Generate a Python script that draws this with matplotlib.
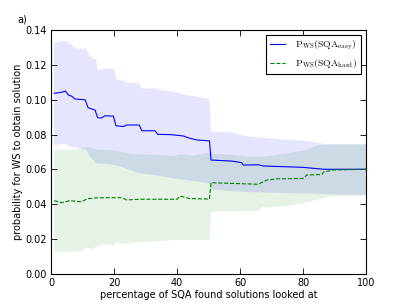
import numpy as np
import matplotlib
matplotlib.use("Agg")
import matplotlib.pyplot as plt

# mean curves
x_easy = [1, 3.4, 4.6, 5.5, 6.6, 7.6, 10.8, 11.8, 14, 14.8, 16, 17.1, 19.8, 20.6, 23, 24, 28, 28.8,
          33, 33.9, 37.8, 42, 43.5, 46.2, 50.3, 50.8, 57.4, 60.5, 61, 65.8, 67.3, 80, 86.5, 100]
p_easy = [0.1037, 0.1043, 0.105, 0.1027, 0.102, 0.1004, 0.1, 0.0954, 0.094, 0.0897, 0.0895, 0.0908,
          0.0906, 0.0851, 0.0846, 0.0855, 0.0855, 0.0822, 0.0822, 0.0801, 0.08, 0.0792, 0.0782, 0.0769,
          0.0764, 0.0654, 0.0648, 0.0639, 0.0625, 0.0627, 0.062, 0.0612, 0.0601, 0.0601]

x_hard = [1, 3.4, 6, 9.7, 11.5, 14.3, 18.7, 22.4, 24, 28, 40, 41, 44, 50.3, 50.8, 65.8, 68.5, 71.7,
          80, 81.2, 86, 86.5, 89.7, 100]
p_hard = [0.0421, 0.0409, 0.0421, 0.0414, 0.0432, 0.0437, 0.0438, 0.0438, 0.0425, 0.0429, 0.0429,
          0.0447, 0.0433, 0.043, 0.0524, 0.0515, 0.0539, 0.0546, 0.0548, 0.0568, 0.0571, 0.0585,
          0.0597, 0.0601]

# bands
xe_up = [1, 4.5, 5.5, 8.2, 11.3, 12.4, 14.3, 15, 17, 20, 20.8, 23.4, 24, 28, 28.8, 33, 34, 38.8,
         43, 50.3, 50.8, 56.8, 60.5, 63, 68, 73.7, 81.2, 84.9, 86.5, 100]
pe_up = [0.1329, 0.1338, 0.133, 0.129, 0.1293, 0.1247, 0.1228, 0.1167, 0.118, 0.1178, 0.1113,
         0.1109, 0.1098, 0.1094, 0.1065, 0.1065, 0.1059, 0.1046, 0.1027, 0.1004, 0.0816, 0.0814,
         0.0797, 0.0788, 0.078, 0.0772, 0.0765, 0.0753, 0.0746, 0.0744]
xe_lo = [1, 4.5, 6, 9, 11.3, 12.4, 14.3, 18.7, 22, 28, 32.5, 38.8, 43, 50.3, 50.8, 60, 68.5, 79, 90, 100]
pe_lo = [0.074, 0.0746, 0.0732, 0.0723, 0.0711, 0.0673, 0.0635, 0.063, 0.0616, 0.0578, 0.0569,
         0.0549, 0.054, 0.052, 0.0486, 0.0472, 0.0467, 0.0463, 0.0457, 0.0453]

xh_up = [1, 4.5, 8, 11.3, 15, 20, 26, 33, 38.8, 41, 45, 50.3, 50.8, 57, 63, 68, 74, 81, 84.9, 100]
ph_up = [0.0715, 0.0713, 0.0713, 0.073, 0.0713, 0.071, 0.0688, 0.0684, 0.0677, 0.0688, 0.068,
         0.0696, 0.0689, 0.0684, 0.0673, 0.0673, 0.069, 0.0711, 0.0741, 0.0745]
xh_lo = [1, 4.6, 6, 9.5, 11.5, 13, 14.3, 16.6, 20, 20.8, 23.4, 26, 33.5, 40, 50.3, 50.8, 66, 67,
         75, 81, 85, 87.6, 100]
ph_lo = [0.0128, 0.0126, 0.013, 0.0127, 0.0153, 0.014, 0.0156, 0.017, 0.0166, 0.0185, 0.0172,
         0.018, 0.0189, 0.0195, 0.0195, 0.0357, 0.0363, 0.0383, 0.0389, 0.0409, 0.0428, 0.0443, 0.0453]

plt.rcParams["mathtext.fontset"] = "cm"
fs = 7

fig = plt.figure(figsize=(4.07, 3.05), dpi=100)
ax = fig.add_axes([0.1253, 0.1016, 0.774, 0.80])

ax.fill(np.concatenate([xe_up, xe_lo[::-1]]), np.concatenate([pe_up, pe_lo[::-1]]),
        color="b", alpha=0.1, lw=0)
ax.fill(np.concatenate([xh_up, xh_lo[::-1]]), np.concatenate([ph_up, ph_lo[::-1]]),
        color="g", alpha=0.1, lw=0)
ax.plot(x_easy, p_easy, "b-", lw=0.8, label=r"$\mathrm{P_{WS}(SQA_{easy})}$")
ax.plot(x_hard, p_hard, "g--", lw=0.8, label=r"$\mathrm{P_{WS}(SQA_{hard})}$")

ax.set_xlim(0, 100)
ax.set_ylim(0, 0.14)
ax.set_xticks([0, 20, 40, 60, 80, 100])
ax.set_yticks(np.arange(0, 0.141, 0.02))
ax.yaxis.set_major_formatter(matplotlib.ticker.FormatStrFormatter("%.2f"))
ax.tick_params(direction="in", top=True, right=True, length=4, width=0.6, labelsize=fs, pad=3)
for s in ax.spines.values():
    s.set_linewidth(0.8)

ax.set_xlabel("percentage of SQA found solutions looked at", fontsize=fs, labelpad=1)
ax.set_ylabel("probability for WS to obtain solution", fontsize=fs, labelpad=2)

leg = ax.legend(loc="upper right", fontsize=fs, fancybox=False, framealpha=1,
                edgecolor="k", handlelength=1.6, handletextpad=1.0, borderaxespad=0.5)
leg.get_frame().set_linewidth(0.8)

fig.text(0.042, 0.925, "a)", fontsize=fs)

fig.savefig("out.png", dpi=100)
